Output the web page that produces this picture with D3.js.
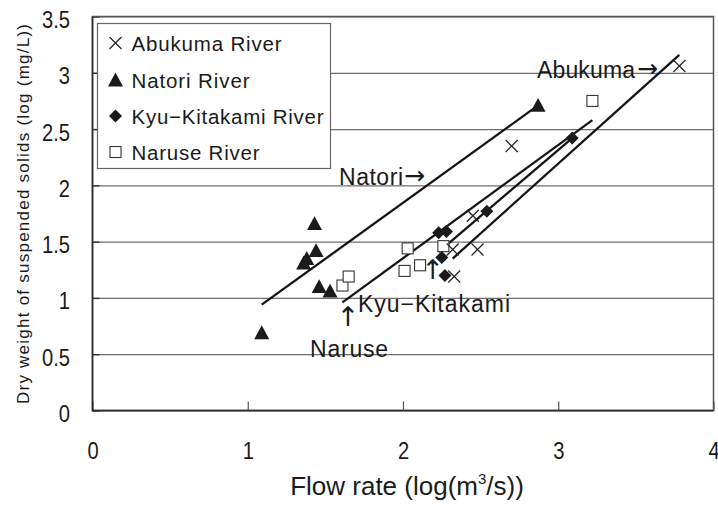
<!DOCTYPE html>
<html>
<head>
<meta charset="utf-8">
<script src="https://cdn.jsdelivr.net/npm/d3@7"></script>
<style>
  html, body { margin: 0; padding: 0; background: #fff; }
  svg { display: block; }
  text { font-family: "Liberation Sans", Arial, "DejaVu Sans", sans-serif; fill: #1a1a1a; }
  .arrow { font-family: "DejaVu Sans", sans-serif; fill: #1a1a1a; }
</style>
</head>
<body>
<svg id="chart" width="718" height="505"></svg>
<script>
// Suspended-solid load vs. flow rate for four rivers (log-log values)
const seriesNames = ["Abukuma River", "Natori River", "Kyu-Kitakami River", "Naruse River"];

const abukumaPoints = [[2.32, 1.43], [2.33, 1.19], [2.45, 1.73], [2.48, 1.43], [2.70, 2.35], [3.78, 3.06]];
const natoriPoints  = [[1.09, 0.69], [1.36, 1.31], [1.38, 1.35], [1.44, 1.42], [1.43, 1.66], [1.46, 1.10], [1.53, 1.06], [2.87, 2.71]];
const kyuPoints     = [[2.23, 1.58], [2.28, 1.59], [2.25, 1.36], [2.27, 1.20], [2.54, 1.77], [3.09, 2.42]];
const narusePoints  = [[1.61, 1.11], [1.65, 1.19], [2.01, 1.24], [2.03, 1.44], [2.11, 1.29], [2.26, 1.46], [3.22, 2.75]];

// Fitted regression lines (start / end over each river's flow range)
const abukumaFit = [[2.32, 1.35], [3.78, 3.16]];
const natoriFit  = [[1.09, 0.94], [2.87, 2.71]];
const kyuFit     = [[2.23, 1.41], [3.09, 2.42]];
const naruseFit  = [[1.61, 0.96], [3.22, 2.58]];

const xTicks = [0, 1, 2, 3, 4];
const yTicks = [0, 0.5, 1, 1.5, 2, 2.5, 3, 3.5];

const xTitle = "Flow rate (log(m";
const xTitleSup = "3";
const xTitleEnd = "/s))";
const yTitle = "Dry weight of suspended solids (log (mg/L))";

const svg = d3.select("#chart");
const plotLeft = 92.5, plotRight = 713.5, plotTop = 16.5, plotBottom = 410.5;

const x = d3.scaleLinear().domain([0, 4]).range([plotLeft, plotRight]);
const y = d3.scaleLinear().domain([0, 3.5]).range([plotBottom, plotTop]);

// gridlines + y tick labels
const yAxis = d3.axisLeft(y).tickValues(yTicks).tickSize(-(plotRight - plotLeft)).tickPadding(22.5)
  .tickFormat(d => String(d));
const gy = svg.append("g").attr("transform", `translate(${plotLeft},0)`).call(yAxis);
gy.select(".domain").remove();
gy.selectAll(".tick line").attr("stroke", "#6e6e6e").attr("stroke-width", 1.2);
gy.selectAll(".tick text")
  .attr("x", null).attr("dy", null)
  .attr("transform", "translate(-22.5,11) scale(0.84,1)")
  .attr("text-anchor", "end")
  .style("font-size", "24px")
  .style("font-family", "\"Liberation Sans\", Arial, sans-serif")
  .attr("fill", "#1a1a1a");
// short inner ticks on the y axis
gy.selectAll(".tick").append("line")
  .attr("x1", 0).attr("x2", 7).attr("stroke", "#333").attr("stroke-width", 1.4);

// x axis
const xAxis = d3.axisBottom(x).tickValues(xTicks).tickSize(-9).tickPadding(31).tickFormat(d => String(d));
const gx = svg.append("g").attr("transform", `translate(0,${plotBottom})`).call(xAxis);
gx.select(".domain").remove();
gx.selectAll(".tick line").attr("stroke", "#555").attr("stroke-width", 1.2);
gx.selectAll(".tick text")
  .attr("y", null).attr("dy", null)
  .attr("transform", "translate(0,48) scale(0.84,1)")
  .style("font-size", "24px")
  .style("font-family", "\"Liberation Sans\", Arial, sans-serif")
  .attr("fill", "#1a1a1a");

// plot frame
svg.append("rect")
  .attr("x", plotLeft).attr("y", plotTop).attr("width", plotRight - plotLeft).attr("height", plotBottom - plotTop)
  .attr("fill", "none").attr("stroke", "#555").attr("stroke-width", 1.5);
svg.append("path")
  .attr("d", `M${plotLeft},${plotTop}V${plotBottom}H${plotRight}`)
  .attr("fill", "none").attr("stroke", "#2a2a2a").attr("stroke-width", 1.6);

// regression lines
const line = d3.line().x(d => x(d[0])).y(d => y(d[1]));
[natoriFit, naruseFit, kyuFit, abukumaFit].forEach(f => {
  svg.append("path").attr("d", line(f)).attr("fill", "none")
    .attr("stroke", "#151515").attr("stroke-width", 2.3).attr("stroke-linecap", "butt");
});

// marker shapes
function drawCross(g, cx, cy, r) {
  g.append("path")
    .attr("d", `M${cx - r},${cy - r}L${cx + r},${cy + r}M${cx - r},${cy + r}L${cx + r},${cy - r}`)
    .attr("stroke", "#222").attr("stroke-width", 1.2).attr("fill", "none");
}
function drawTriangle(g, cx, cy, r) {
  g.append("path")
    .attr("d", `M${cx},${cy - r}L${cx + r},${cy + r * 0.85}L${cx - r},${cy + r * 0.85}Z`)
    .attr("fill", "#1a1a1a");
}
function drawDiamond(g, cx, cy, r) {
  g.append("path")
    .attr("d", `M${cx},${cy - r}L${cx + r},${cy}L${cx},${cy + r}L${cx - r},${cy}Z`)
    .attr("fill", "#1a1a1a");
}
function drawSquare(g, cx, cy, r) {
  g.append("rect").attr("x", cx - r).attr("y", cy - r).attr("width", 2 * r).attr("height", 2 * r)
    .attr("fill", "#fff").attr("stroke", "#333").attr("stroke-width", 1.1);
}

const pts = svg.append("g");
narusePoints.forEach(d => drawSquare(pts, x(d[0]), y(d[1]), 5.5));
natoriPoints.forEach(d => drawTriangle(pts, x(d[0]), y(d[1]), 7.5));
kyuPoints.forEach(d => drawDiamond(pts, x(d[0]), y(d[1]), 6.5));
abukumaPoints.forEach(d => drawCross(pts, x(d[0]), y(d[1]), 6));

// annotations: river name followed by a pointing arrow
function labelArrowRight(txt, px, py, len, arrowX) {
  svg.append("text").attr("x", px).attr("y", py).style("font-size", "23px")
    .attr("textLength", len).attr("lengthAdjust", "spacing").text(txt);
  svg.append("text").attr("class", "arrow").attr("x", arrowX).attr("y", py - 1)
    .style("font-size", "25px").text("\u2192");
}
function arrowUp(px, py) {
  svg.append("text").attr("class", "arrow").attr("x", px).attr("y", py)
    .attr("text-anchor", "middle").style("font-size", "27px").text("\u2191");
}
function plainLabel(txt, px, py, len) {
  svg.append("text").attr("x", px).attr("y", py).style("font-size", "23px")
    .attr("textLength", len).attr("lengthAdjust", "spacing").text(txt);
}
labelArrowRight("Abukuma", 537, 78, 98, 637);
labelArrowRight("Natori", 339, 185, 64, 404);
arrowUp(432.7, 279);
plainLabel("Kyu\u2212Kitakami", 358, 311.5, 152);
arrowUp(348, 326);
plainLabel("Naruse", 310, 356.5, 78);

// legend
const lg = svg.append("g");
lg.append("rect").attr("x", 97.5).attr("y", 23.5).attr("width", 233).attr("height", 145)
  .attr("fill", "#fff").attr("stroke", "#666").attr("stroke-width", 1.2);
const legendY = [43, 80, 116, 152];
const legendLen = [150, 118, 192, 128];
const legendDraw = [drawCross, drawTriangle, drawDiamond, drawSquare];
const legendR = [6, 7.5, 6.5, 5.5];
seriesNames.forEach((name, i) => {
  legendDraw[i](lg, 115.5, legendY[i], legendR[i]);
  lg.append("text").attr("x", 131.5).attr("y", legendY[i] + 7.5)
    .style("font-size", "20.5px").attr("textLength", legendLen[i]).attr("lengthAdjust", "spacing")
    .text(i === 2 ? "Kyu\u2212Kitakami River" : name);
});

// axis titles
const xt = svg.append("text").attr("x", 407).attr("y", 495).attr("text-anchor", "middle")
  .style("font-size", "26px");
xt.append("tspan").text(xTitle);
xt.append("tspan").attr("dy", -11).style("font-size", "15px").text(xTitleSup);
xt.append("tspan").attr("dy", 11).text(xTitleEnd);

svg.append("text")
  .attr("transform", `translate(29,214) rotate(-90)`)
  .attr("text-anchor", "middle")
  .style("font-size", "17px")
  .attr("textLength", 380).attr("lengthAdjust", "spacing")
  .text(yTitle);
</script>
</body>
</html>
